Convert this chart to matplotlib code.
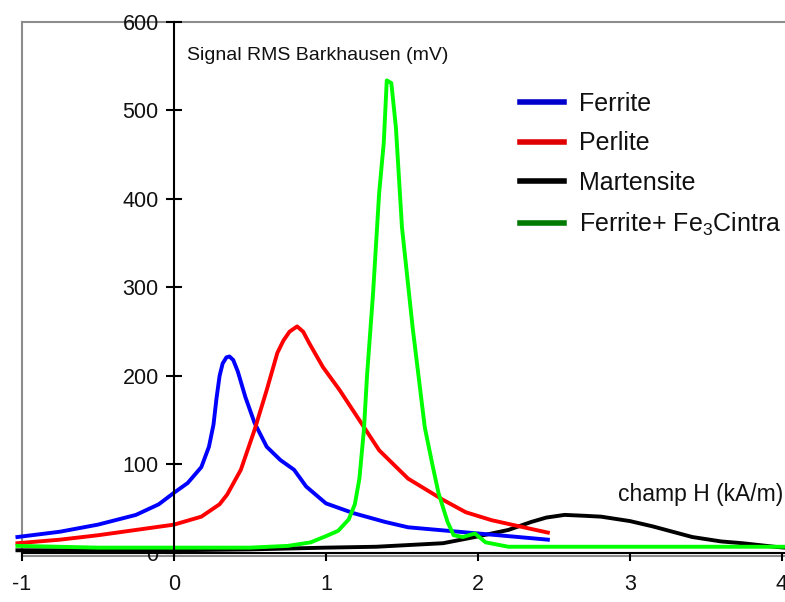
import matplotlib
matplotlib.use("Agg")
import matplotlib.pyplot as plt
from matplotlib.lines import Line2D

plt.rcParams["font.family"] = ["Liberation Sans", "DejaVu Sans"]
plt.rcParams["axes.unicode_minus"] = False
plt.rcParams["mathtext.fontset"] = "custom"
plt.rcParams["mathtext.rm"] = "Liberation Sans"

# champ H (kA/m) / signal RMS (mV)
ferrite_x = [-1.03, -0.75, -0.5, -0.25, -0.1, 0.0, 0.09, 0.18, 0.23, 0.26, 0.28, 0.30, 0.32,
             0.345, 0.365, 0.39, 0.42, 0.47, 0.53, 0.61, 0.70, 0.79, 0.87, 1.0, 1.18, 1.39,
             1.54, 1.87, 2.2, 2.46]
ferrite_y = [18, 24, 32, 43, 55, 68, 79, 97, 120, 145, 175, 200, 214,
             221, 222, 218, 205, 176, 147, 120, 105, 94, 75, 56, 45, 35,
             29, 24, 19, 15]

perlite_x = [-1.03, -0.75, -0.5, -0.25, 0.0, 0.18, 0.30, 0.35, 0.44, 0.53, 0.61, 0.68, 0.72,
             0.76, 0.81, 0.85, 0.89, 0.98, 1.09, 1.22, 1.35, 1.54, 1.77, 1.92, 2.09, 2.3, 2.46]
perlite_y = [11, 15, 20, 26, 32, 41, 55, 66, 94, 139, 184, 226, 240,
             250, 256, 250, 237, 210, 184, 150, 116, 84, 60, 46, 37, 29, 23]

marten_x = [-1.03, 0.0, 0.5, 1.0, 1.33, 1.77, 1.98, 2.2, 2.35, 2.45, 2.57, 2.7, 2.81,
            3.0, 3.15, 3.41, 3.6, 3.74, 3.95, 4.02]
marten_y = [3, 3, 4, 6, 7, 11, 18, 26, 35, 40, 43, 42, 41,
            36, 30, 18, 13, 11, 7, 6]

fe3c_x = [-1.03, -0.5, 0.0, 0.5, 0.75, 0.9, 1.0, 1.08, 1.15, 1.19, 1.22, 1.25, 1.27,
          1.31, 1.35, 1.38, 1.40, 1.43, 1.46, 1.50, 1.57, 1.65, 1.70, 1.74, 1.80,
          1.84, 1.90, 1.98, 2.05, 2.2, 3.0, 4.02]
fe3c_y = [8, 6, 6, 6, 8, 12, 19, 25, 38, 55, 84, 140, 200,
          294, 407, 463, 534, 531, 481, 368, 255, 142, 100, 68, 35,
          20, 18, 22, 12, 7, 7, 7]

labels = ["Ferrite", "Perlite", "Martensite", r"Ferrite+ Fe$_\mathregular{3}$Cintra"]
line_colors = ["#0000ff", "#ff0000", "#000000", "#00ff00"]
legend_colors = ["#0000cc", "#e00000", "#000000", "#007a00"]

fig = plt.figure(figsize=(7.85, 6.02), dpi=100)
rect = [0.028, 0.0756, 0.972, 0.8879]

# gray outer frame
frame = fig.add_axes(rect)
frame.set_xticks([])
frame.set_yticks([])
for side in ["left", "top", "bottom"]:
    frame.spines[side].set_color("#8c8c8c")
    frame.spines[side].set_linewidth(1.5)
frame.spines["right"].set_visible(False)

ax = fig.add_axes(rect)
ax.patch.set_alpha(0)
ax.set_xlim(-1, 4.02)
ax.set_ylim(-4, 600)

lw = 2.8
ax.plot(marten_x, marten_y, color=line_colors[2], lw=lw, clip_on=False)
ax.plot(ferrite_x, ferrite_y, color=line_colors[0], lw=lw, clip_on=False)
ax.plot(perlite_x, perlite_y, color=line_colors[1], lw=lw, clip_on=False)
ax.plot(fe3c_x, fe3c_y, color=line_colors[3], lw=lw, clip_on=False)

ax.spines["left"].set_position(("data", 0))
ax.spines["bottom"].set_position(("data", 0))
ax.spines["right"].set_visible(False)
ax.spines["top"].set_visible(False)
for side in ["left", "bottom"]:
    ax.spines[side].set_color("black")
    ax.spines[side].set_linewidth(1.5)

ax.set_xticks([-1, 0, 1, 2, 3, 4])
ax.set_yticks([0, 100, 200, 300, 400, 500, 600])
ax.tick_params(axis="y", direction="inout", length=12, width=1.5, pad=5, labelsize=15.5,
               labelcolor="#111111")
ax.tick_params(axis="x", direction="out", length=6, width=1.5, pad=9, labelsize=15.5,
               labelcolor="#111111")

fig.text(187 / 785, 1 - 55 / 602, "Signal RMS Barkhausen (mV)", ha="left", va="center",
         fontsize=14, color="#111111")
fig.text(783 / 785, 1 - 494 / 602, "champ H (kA/m)", ha="right", va="center",
         fontsize=16.5, color="#111111")

handles = [Line2D([], [], color=c, lw=4) for c in legend_colors]
ax.legend(handles, labels, loc="upper left", bbox_to_anchor=(520 / 785, 1 - 92 / 602),
          bbox_transform=fig.transFigure, frameon=False,
          prop={"size": 18}, labelcolor="#111111",
          handlelength=1.75, handletextpad=0.6, labelspacing=0.62,
          borderpad=0, borderaxespad=0)

fig.savefig("out.png", dpi=100)
